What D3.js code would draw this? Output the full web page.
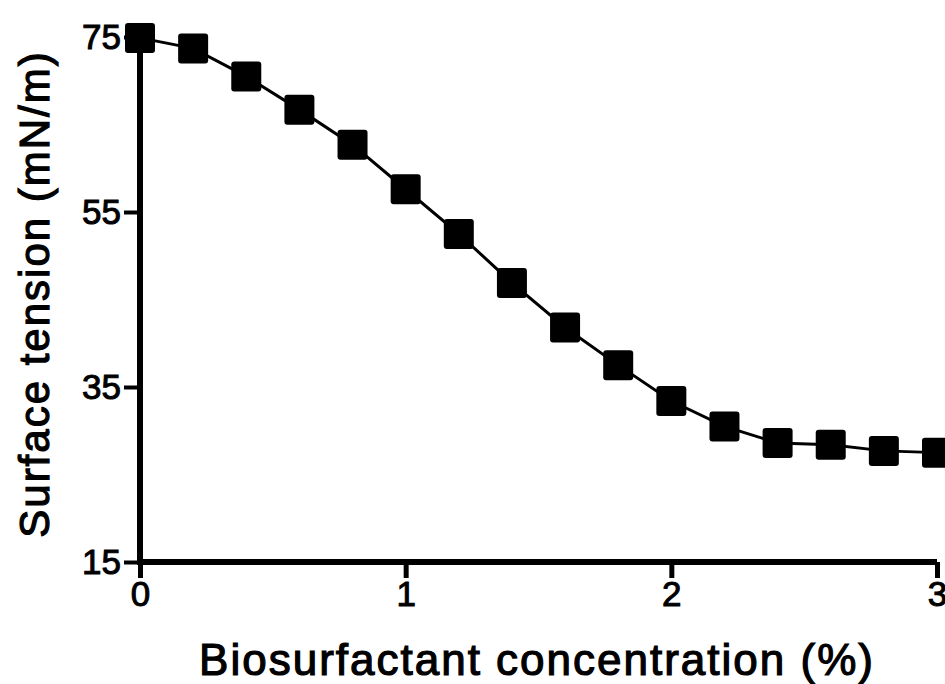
<!DOCTYPE html>
<html>
<head>
<meta charset="utf-8">
<script src="https://cdn.jsdelivr.net/npm/d3@7"></script>
<style>
  body { margin: 0; background: #fff; }
  text { font-family: "Liberation Sans", Arial, sans-serif; fill: #000; }
</style>
</head>
<body>
<svg id="chart" width="945" height="684"></svg>
<script>
// concentration (%) vs surface tension (mN/m)
const concentration = [0, 0.2, 0.4, 0.6, 0.8, 1.0, 1.2, 1.4, 1.6, 1.8, 2.0, 2.2, 2.4, 2.6, 2.8, 3.0];
const tension = [74.9, 73.7, 70.5, 66.7, 62.7, 57.6, 52.5, 46.9, 41.8, 37.5, 33.4, 30.5, 28.6, 28.4, 27.7, 27.5];
const xTicks = [0, 1, 2, 3];
const yTicks = [15, 35, 55, 75];

const data = concentration.map((c, i) => ({ x: c, y: tension[i] }));

const svg = d3.select("#chart");
const margin = { top: 37, right: 8, bottom: 122, left: 140 };
const width = +svg.attr("width");
const height = +svg.attr("height");
const innerWidth = width - margin.left - margin.right;
const innerHeight = height - margin.top - margin.bottom;

const g = svg.append("g")
  .attr("transform", `translate(${margin.left}, ${margin.top})`);

const xScale = d3.scaleLinear().domain([0, 3]).range([0, innerWidth]);
const yScale = d3.scaleLinear().domain([15, 75]).range([innerHeight, 0]);

// Y-axel
const yAxis = g.append("g")
  .call(d3.axisLeft(yScale).tickValues(yTicks).tickSize(16).tickPadding(3));
yAxis.select(".domain").attr("stroke-width", 6).attr("d", `M0,${innerHeight + 3}V0`);
yAxis.selectAll(".tick line").attr("stroke-width", 4);
yAxis.selectAll(".tick text")
  .attr("font-size", 35)
  .attr("stroke", "#000").attr("stroke-width", 1)
  .attr("font-family", "Liberation Sans, Arial, sans-serif");

// X-axel
const xAxis = g.append("g")
  .attr("transform", `translate(0, ${innerHeight})`)
  .call(d3.axisBottom(xScale).tickValues(xTicks).tickFormat(d3.format("d")).tickSize(16).tickPadding(3));
xAxis.select(".domain").attr("stroke-width", 6).attr("d", `M-3,0H${innerWidth}`);
xAxis.selectAll(".tick line").attr("stroke-width", 5);
xAxis.selectAll(".tick text")
  .attr("font-size", 35)
  .attr("stroke", "#000").attr("stroke-width", 1)
  .attr("font-family", "Liberation Sans, Arial, sans-serif");

// Linje
const line = d3.line().x(d => xScale(d.x)).y(d => yScale(d.y));
g.append("path")
  .datum(data)
  .attr("fill", "none")
  .attr("stroke", "#000")
  .attr("stroke-width", 3)
  .attr("d", line);

// Markörer
const size = 30;
g.selectAll(".marker")
  .data(data)
  .enter()
  .append("rect")
  .attr("class", "marker")
  .attr("x", d => xScale(d.x) - size / 2)
  .attr("y", d => yScale(d.y) - size / 2)
  .attr("width", size)
  .attr("height", size)
  .attr("rx", 3)
  .attr("fill", "#000");

// Axeltitlar
svg.append("text")
  .attr("x", 537)
  .attr("y", 675)
  .attr("text-anchor", "middle")
  .attr("font-size", 44)
  .attr("letter-spacing", 2)
  .attr("stroke", "#000").attr("stroke-width", 1.2)
  .text("Biosurfactant concentration (%)");

svg.append("text")
  .attr("transform", "translate(49, 294) rotate(-90)")
  .attr("text-anchor", "middle")
  .attr("font-size", 42)
  .attr("letter-spacing", 2)
  .attr("stroke", "#000").attr("stroke-width", 1.2)
  .text("Surface tension (mN/m)");
</script>
</body>
</html>
